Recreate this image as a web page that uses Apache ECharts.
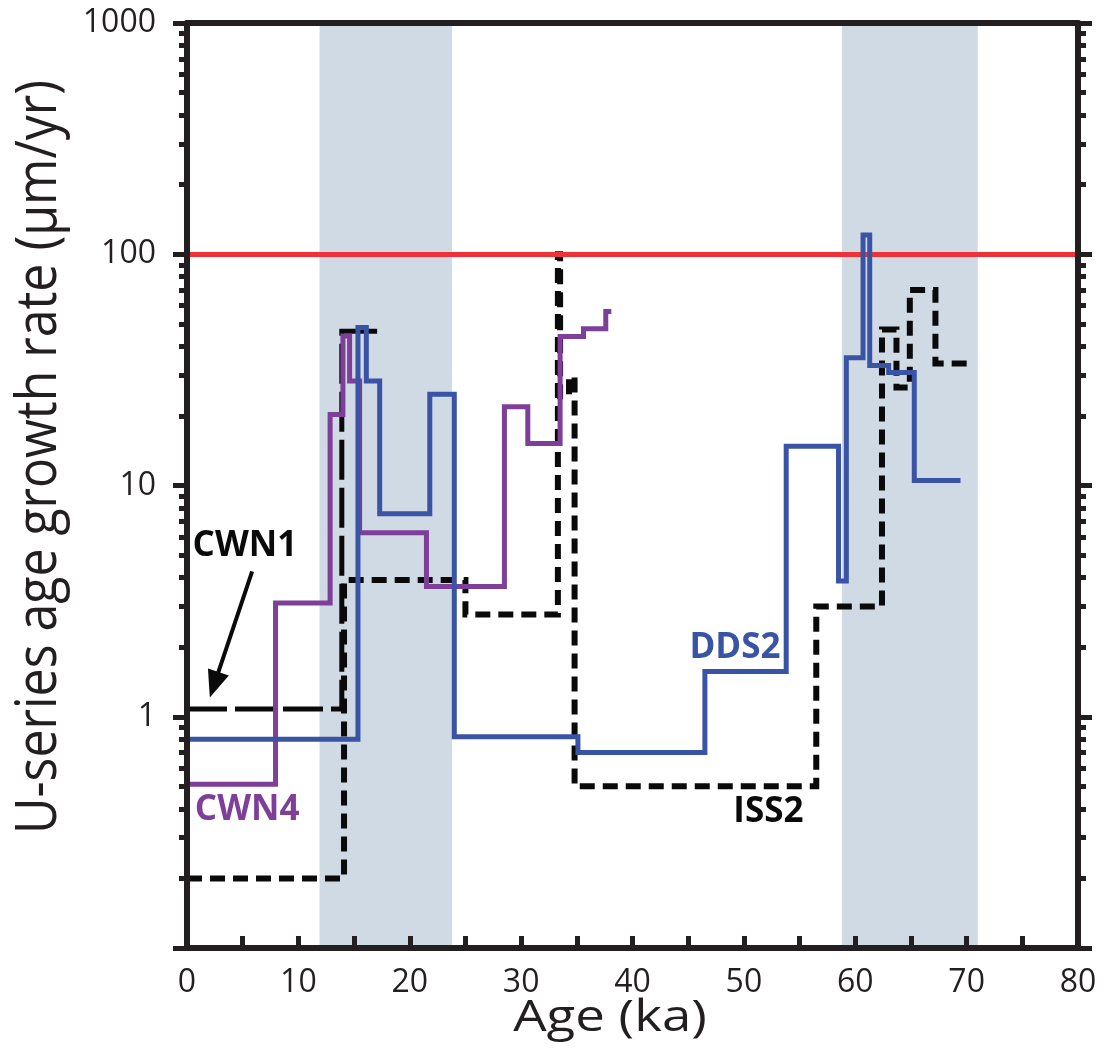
<!DOCTYPE html>
<html>
<head>
<meta charset="utf-8">
<script src="https://cdn.jsdelivr.net/npm/echarts@6/dist/echarts.min.js"></script>
<style>
  html, body { margin: 0; padding: 0; background: #ffffff; }
  #chart { width: 1105px; height: 1056px; }
</style>
</head>
<body>
<div id="chart"></div>
<script>
// Stepwise growth-rate histories: each rate (µm/yr) holds from its age (ka) until the next age.
const cwn1Age  = [0, 13.9, 17.2];
const cwn1Rate = [1.08, 46.5, 46.5];

const cwn4Age  = [0, 7.95, 12.85, 14.0, 14.6, 15.5, 21.5, 28.5, 30.6, 33.5, 35.6, 37.6, 38.1];
const cwn4Rate = [0.51, 3.1, 20.3, 44.3, 28.3, 6.24, 3.66, 21.9, 15.2, 44.1, 47.6, 56.5, 56.5];

const dds2Age  = [0, 15.35, 16.1, 17.3, 21.8, 24.0, 35.1, 46.5, 53.8, 58.5, 59.2, 60.7, 61.3, 63.0, 65.3, 69.45];
const dds2Rate = [0.80, 48.2, 28.3, 7.54, 24.8, 0.82, 0.70, 1.57, 14.8, 3.86, 35.7, 121, 33.0, 30.8, 10.5, 10.5];

const iss2Age  = [0, 14.1, 25.0, 33.3, 33.5, 34.3, 34.8, 56.5, 62.4, 63.7, 64.9, 67.2, 70.6];
const iss2Rate = [0.2, 3.9, 2.77, 100, 24.3, 29.4, 0.5, 3.0, 47.3, 26.5, 70, 33.7, 33.7];

// Shaded age intervals (ka) and the reference rate line (µm/yr)
const bandStart = [11.9, 58.8];
const bandEnd   = [23.8, 71.0];
const referenceRate = 100;

// Axis ticks and labels
const xMin = 0, xMax = 80, xTickStep = 5, xLabelStep = 10;
const yMin = 0.1, yMax = 1000;
const yLabelValues = [1, 10, 100, 1000];
const yMajorTicks = [0.1, 1, 10, 100, 1000];
const decades = [0.1, 1, 10, 100];
const yMinorTicks = [];
decades.forEach(d => { for (let m = 2; m <= 9; m++) yMinorTicks.push(+(d * m).toPrecision(3)); });

const INK = '#231f20';
const FONT = '"Open Sans", "Liberation Sans", sans-serif';

function steps(ages, rates) { return ages.map((a, i) => [a, rates[i]]); }

const chart = echarts.init(document.getElementById('chart'), null, { renderer: 'canvas' });

function logAxis(position, ticks, tickLen, showLine, showLabels) {
  return {
    type: 'log', logBase: 10, min: yMin, max: yMax, position: position,
    z: 10,
    axisLine: { show: showLine, lineStyle: { color: INK, width: 6 } },
    axisTick: { show: true, inside: false, length: tickLen, customValues: ticks,
                lineStyle: { color: INK, width: 5 } },
    minorTick: { show: false },
    axisLabel: showLabels ? {
      show: true, customValues: yLabelValues, margin: 31,
      color: INK, fontFamily: FONT, fontSize: 32,
      formatter: v => String(v)
    } : { show: false },
    splitLine: { show: false }
  };
}

const lineBase = { type: 'line', step: 'end', symbol: 'none', clip: false, silent: true };

const option = {
  animation: false,
  backgroundColor: '#ffffff',
  grid: { left: 187, right: 27, top: 23, bottom: 108 },
  xAxis: [
    {
      type: 'value', min: xMin, max: xMax, interval: xTickStep, position: 'bottom', z: 10,
      axisLine: { show: true, lineStyle: { color: INK, width: 6 } },
      axisTick: { show: true, inside: true, length: 12, lineStyle: { color: INK, width: 5 } },
      axisLabel: {
        margin: 19, color: INK, fontFamily: FONT, fontSize: 32,
        formatter: v => (v % xLabelStep === 0 ? String(v) : '')
      },
      splitLine: { show: false }
    },
    {
      type: 'value', min: xMin, max: xMax, position: 'top', z: 10,
      axisLine: { show: true, lineStyle: { color: INK, width: 6 } },
      axisTick: { show: false }, axisLabel: { show: false }, splitLine: { show: false }
    }
  ],
  yAxis: [
    logAxis('left', yMajorTicks, 14, true, true),
    logAxis('left', yMinorTicks, 8, false, false),
    logAxis('right', yMajorTicks, 14, true, false),
    logAxis('right', yMinorTicks, 8, false, false)
  ],
  series: [
    {
      ...lineBase, name: 'bands', data: [], z: 1,
      markArea: {
        silent: true,
        itemStyle: { color: '#d0dae4', opacity: 1 },
        data: bandStart.map((s, i) => [{ xAxis: s }, { xAxis: bandEnd[i] }])
      }
    },
    {
      ...lineBase, name: 'ISS2', data: steps(iss2Age, iss2Rate), z: 3,
      lineStyle: { color: '#0a0a0a', width: 6, type: [15, 8], join: 'miter', cap: 'butt' }
    },
    {
      ...lineBase, name: 'CWN1', data: steps(cwn1Age, cwn1Rate), z: 3,
      lineStyle: { color: '#0a0a0a', width: 5, type: [40, 8], join: 'miter', cap: 'butt' }
    },
    {
      ...lineBase, name: 'CWN4', data: steps(cwn4Age, cwn4Rate), z: 4,
      lineStyle: { color: '#7e3f98', width: 5, join: 'miter' }
    },
    {
      ...lineBase, name: 'DDS2', data: steps(dds2Age, dds2Rate), z: 5,
      lineStyle: { color: '#3954a4', width: 5, join: 'miter' }
    },
    {
      ...lineBase, name: 'reference', data: [], z: 6,
      markLine: {
        silent: true, symbol: ['none', 'none'], label: { show: false },
        lineStyle: { color: '#ee3237', width: 5, type: 'solid' },
        data: [{ yAxis: referenceRate }]
      }
    }
  ]
};

chart.setOption(option);

// Curve labels and the arrow, anchored in data coordinates
const curveLabels = [
  { text: 'CWN1', at: [5.2, 5.5], color: '#0a0a0a' },
  { text: 'CWN4', at: [5.4, 0.395], color: '#7e3f98' },
  { text: 'DDS2', at: [49.2, 1.99], color: '#3954a4' },
  { text: 'ISS2', at: [52.2, 0.388], color: '#0a0a0a' }
];
const arrowFrom = [5.85, 4.25];
const arrowTo = [2.05, 1.21];

const px = p => chart.convertToPixel({ xAxisIndex: 0, yAxisIndex: 0 }, p);

const graphics = [];
curveLabels.forEach(l => {
  const p = px(l.at);
  graphics.push({
    type: 'text', x: p[0], y: p[1], z: 20,
    style: { text: l.text, fill: l.color, font: 'bold 35px ' + FONT,
             textAlign: 'center', textVerticalAlign: 'middle' }
  });
});

const a0 = px(arrowFrom), a1 = px(arrowTo);
const dx = a1[0] - a0[0], dy = a1[1] - a0[1];
const len = Math.hypot(dx, dy), ux = dx / len, uy = dy / len;
const headLen = 27, headHalf = 11;
const bx = a1[0] - ux * headLen, by = a1[1] - uy * headLen;
graphics.push({
  type: 'line', z: 20,
  shape: { x1: a0[0], y1: a0[1], x2: bx + ux * 2, y2: by + uy * 2 },
  style: { stroke: '#0a0a0a', lineWidth: 4 }
});
graphics.push({
  type: 'polygon', z: 20,
  shape: { points: [[a1[0], a1[1]], [bx - uy * headHalf, by + ux * headHalf], [bx + uy * headHalf, by - ux * headHalf]] },
  style: { fill: '#0a0a0a' }
});

// Axis titles
graphics.push({
  type: 'text', x: 40, y: 457, rotation: Math.PI / 2, scaleY: 1.15, z: 20,
  style: { text: 'U-series age growth rate (μm/yr)', fill: INK, font: '50px ' + FONT,
           textAlign: 'center', textVerticalAlign: 'middle' }
});
graphics.push({
  type: 'text', x: 610, y: 1018, scaleX: 1.2, z: 20,
  style: { text: 'Age (ka)', fill: INK, font: '44px ' + FONT,
           textAlign: 'center', textVerticalAlign: 'middle' }
});

chart.setOption({ graphic: graphics });
</script>
</body>
</html>
